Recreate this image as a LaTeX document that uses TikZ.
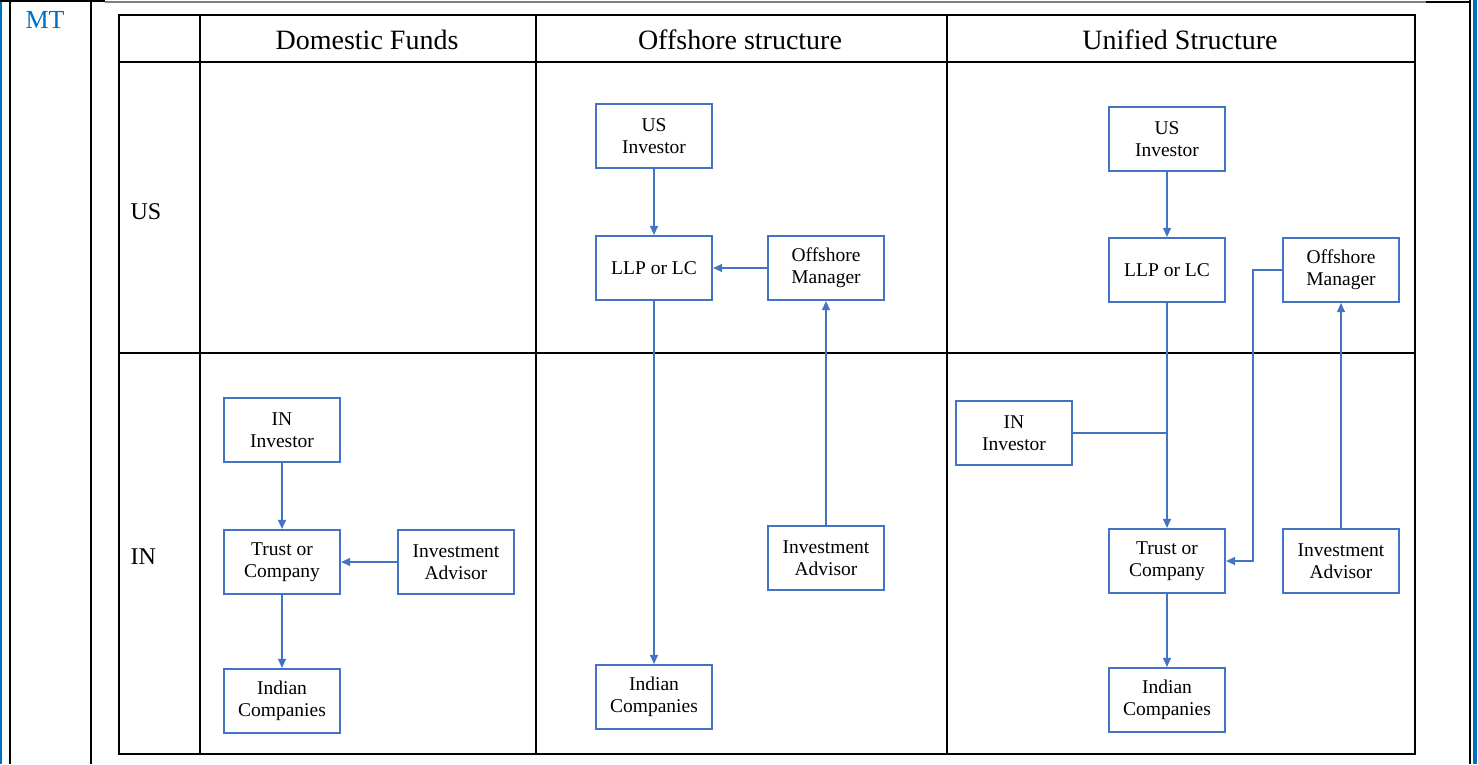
\documentclass[tikz,border=0pt]{standalone}
\usepackage{fontspec}
\setmainfont{Liberation Serif}
\usetikzlibrary{arrows.meta}
\definecolor{boxblue}{HTML}{4472C4}
\definecolor{frameblue}{HTML}{0070C0}
\tikzset{
  box/.style={draw=boxblue, line width=2.2pt, minimum width=116pt, minimum height=64pt,
    inner sep=0pt, align=center, font=\fontsize{19.5}{22}\selectfont},
  conn/.style={draw=boxblue, line width=1.1pt},
  arr/.style={conn, -{Triangle[length=9pt,width=8pt]}},
  grid/.style={draw=black, line width=2pt},
  head/.style={font=\fontsize{28}{32}\selectfont},
  rowlab/.style={font=\fontsize{24}{28}\selectfont, anchor=west}
}
\begin{document}
\begin{tikzpicture}[x=1pt,y=-1pt]
\useasboundingbox (0,0) rectangle (1478,764);
\fill[white] (0,0) rectangle (1478,764);
% outer frame
\draw[frameblue, line width=2pt] (1,0) -- (1,764);
\draw[black, line width=2pt] (10,0) -- (10,764);
\draw[black, line width=2pt] (91,0) -- (91,764);
\draw[black, line width=2pt] (1470,0) -- (1470,764);
\draw[frameblue, line width=4pt] (1475,0) -- (1475,764);
\draw[black, line width=2pt] (0,1) -- (105,1);
\draw[gray, line width=1.2pt] (105,2) -- (1426,2);
\draw[black, line width=2pt] (1426,1.5) -- (1471,1.5);
\node[text=frameblue, font=\fontsize{26}{28}\selectfont] (mt) at (45,20) {MT};
% table
\draw[grid] (119,15) rectangle (1415,754);
\draw[grid] (200,15) -- (200,754);
\draw[grid] (536,15) -- (536,754);
\draw[grid] (947,15) -- (947,754);
\draw[grid] (119,62) -- (1415,62);
\draw[grid] (119,353) -- (1415,353);
\node[head] (h1) at (367,40) {Domestic Funds};
\node[head] (h2) at (740,40) {Offshore structure};
\node[head] (h3) at (1180,40) {Unified Structure};
\node[rowlab] (rus) at (127,212) {US};
\node[rowlab] (rin) at (127,557) {IN};
% domestic
\node[box] (dinv) at (282,430) {IN\\Investor};
\node[box] (dtrust) at (282,562) {Trust or\\Company};
\node[box] (dadv) at (456,562) {Investment\\Advisor};
\node[box] (dind) at (282,701) {Indian\\Companies};
\draw[arr] (dinv.south) -- (dtrust.north);
\draw[arr] (dadv.west) -- (dtrust.east);
\draw[arr] (dtrust.south) -- (dind.north);
% offshore
\node[box] (ous) at (654,136) {US\\Investor};
\node[box] (ollp) at (654,268) {LLP or LC};
\node[box] (omgr) at (826,268) {Offshore\\Manager};
\node[box] (oadv) at (826,558) {Investment\\Advisor};
\node[box] (oind) at (654,697) {Indian\\Companies};
\draw[arr] (ous.south) -- (ollp.north);
\draw[arr] (omgr.west) -- (ollp.east);
\draw[arr] (oadv.north) -- (omgr.south);
\draw[arr] (ollp.south) -- (oind.north);
% unified
\node[box] (uus) at (1167,139) {US\\Investor};
\node[box] (ullp) at (1167,270) {LLP or LC};
\node[box] (umgr) at (1341,270) {Offshore\\Manager};
\node[box] (uinv) at (1014,433) {IN\\Investor};
\node[box] (utrust) at (1167,561) {Trust or\\Company};
\node[box] (uadv) at (1341,561) {Investment\\Advisor};
\node[box] (uind) at (1167,700) {Indian\\Companies};
\coordinate (j) at (1167,433);
\coordinate (k) at (1253,270);
\draw[arr] (uus.south) -- (ullp.north);
\draw[arr] (ullp.south) -- (utrust.north);
\draw[conn] (uinv.east) -- (j);
\draw[arr] (umgr.west) -- (k) |- (utrust.east);
\draw[arr] (uadv.north) -- (umgr.south);
\draw[arr] (utrust.south) -- (uind.north);
\end{tikzpicture}
\end{document}
